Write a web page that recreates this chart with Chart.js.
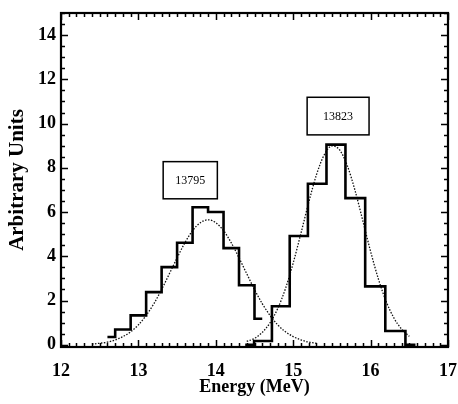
<!DOCTYPE html>
<html>
<head>
<meta charset="utf-8">
<script src="https://cdn.jsdelivr.net/npm/chart.js@4"></script>
<style>
  html, body { margin: 0; padding: 0; background: #fff; }
  #wrap { width: 458px; height: 404px; }
</style>
</head>
<body>
<div id="wrap"><canvas id="chart" width="458" height="404"></canvas></div>
<script>
// Histogram bin centres and heights
const leftCenters = [12.6, 12.8, 13.0, 13.2, 13.4, 13.6, 13.8, 14.0, 14.2, 14.4, 14.6]
const leftCounts = [0.35, 0.69, 1.33, 2.38, 3.51, 4.61, 6.22, 6.0, 4.37, 2.69, 1.18]
const rightCenters = [14.38, 14.61, 14.84, 15.07, 15.31, 15.55, 15.8, 16.06, 16.32, 16.58]
const rightCounts = [0, 0.17, 1.74, 4.92, 7.28, 9.05, 6.63, 2.64, 0.62, 0]

// Dotted fit curves
const fitLeftX = [12.4, 12.5, 12.6, 12.7, 12.8, 12.9, 13.0, 13.1, 13.2, 13.3, 13.4, 13.5, 13.6, 13.7, 13.8,
  13.9, 14.0, 14.1, 14.2, 14.3, 14.4, 14.5, 14.6, 14.7, 14.8, 14.9, 15.0, 15.1, 15.2, 15.3]
const fitLeftY = [0.03, 0.07, 0.12, 0.22, 0.37, 0.59, 0.9, 1.33, 1.86, 2.5, 3.21, 3.93, 4.61, 5.16, 5.52,
  5.65, 5.52, 5.16, 4.61, 3.93, 3.21, 2.5, 1.86, 1.33, 0.9, 0.59, 0.37, 0.22, 0.12, 0.07]
const fitRightX = [14.4, 14.5, 14.6, 14.7, 14.8, 14.9, 15.0, 15.1, 15.2, 15.3, 15.4, 15.5, 15.6, 15.7,
  15.8, 15.9, 16.0, 16.1, 16.2, 16.3, 16.4, 16.5]
const fitRightY = [0.15, 0.29, 0.56, 0.99, 1.64, 2.54, 3.7, 5.04, 6.43, 7.68, 8.58, 8.99, 8.81, 8.09,
  6.96, 5.6, 4.22, 2.98, 1.97, 1.22, 0.71, 0.38]

// Axis ticks
const xTicks = [12, 13, 14, 15, 16, 17]
const yTicks = [0, 2, 4, 6, 8, 10, 12, 14]

// Labelled boxes: text, x range, y range (data units)
const boxLabels = ["13795", "13823"]
const boxX = [[13.32, 14.02], [15.18, 15.98]]
const boxY = [[6.6, 8.28], [9.49, 11.19]]

const toPoints = (xs, ys) => xs.map((x, i) => ({ x: x, y: ys[i] }))

const labelFont = { family: "'Liberation Serif', serif", size: 18, weight: "bold" }

const framePlugin = {
  id: "frame",
  afterDatasetsDraw(chart) {
    const { ctx, chartArea: a, scales: { x, y } } = chart
    ctx.save()
    ctx.strokeStyle = "#000"
    ctx.lineWidth = 1.5
    ctx.beginPath()
    // x minor / major ticks, bottom and top, pointing inward
    for (let i = 120; i <= 170; i++) {
      const v = i / 10
      const px = Math.round(x.getPixelForValue(v)) + 0.5
      const len = i % 10 === 0 ? 7 : 4
      ctx.moveTo(px, a.bottom); ctx.lineTo(px, a.bottom - len)
      ctx.moveTo(px, a.top); ctx.lineTo(px, a.top + len)
    }
    // y ticks every 0.5, major at labels
    for (let i = 0; i <= 30; i++) {
      const v = i / 2
      const py = Math.round(y.getPixelForValue(v)) + 0.5
      const len = yTicks.includes(v) ? 7 : 4
      ctx.moveTo(a.left, py); ctx.lineTo(a.left + len, py)
      ctx.moveTo(a.right, py); ctx.lineTo(a.right - len, py)
    }
    ctx.stroke()
    ctx.lineWidth = 2.2
    ctx.strokeRect(a.left, a.top, a.right - a.left, a.bottom - a.top)

    // annotation boxes
    ctx.lineWidth = 1.5
    ctx.font = "12px 'Liberation Serif', serif"
    ctx.textAlign = "center"
    ctx.textBaseline = "middle"
    boxLabels.forEach((t, i) => {
      const x0 = x.getPixelForValue(boxX[i][0])
      const x1 = x.getPixelForValue(boxX[i][1])
      const y0 = y.getPixelForValue(boxY[i][1])
      const y1 = y.getPixelForValue(boxY[i][0])
      ctx.fillStyle = "#fff"
      ctx.fillRect(x0, y0, x1 - x0, y1 - y0)
      ctx.strokeRect(x0, y0, x1 - x0, y1 - y0)
      ctx.fillStyle = "#000"
      ctx.fillText(t, (x0 + x1) / 2, (y0 + y1) / 2 + 1)
    })
    ctx.restore()
  },
}

const ctx = document.getElementById("chart").getContext("2d")
new Chart(ctx, {
  type: "line",
  data: {
    datasets: [
      {
        data: toPoints(leftCenters, leftCounts),
        stepped: "middle",
        borderColor: "#000",
        borderWidth: 2.6,
        pointRadius: 0,
        fill: false,
      },
      {
        data: toPoints(rightCenters, rightCounts),
        stepped: "middle",
        borderColor: "#000",
        borderWidth: 2.6,
        pointRadius: 0,
        fill: false,
      },
      {
        data: toPoints(fitLeftX, fitLeftY),
        borderColor: "#111",
        borderWidth: 1.3,
        borderDash: [1.5, 1.5],
        cubicInterpolationMode: "monotone",
        pointRadius: 0,
        fill: false,
      },
      {
        data: toPoints(fitRightX, fitRightY),
        borderColor: "#111",
        borderWidth: 1.3,
        borderDash: [1.5, 1.5],
        cubicInterpolationMode: "monotone",
        pointRadius: 0,
        fill: false,
      },
    ],
  },
  options: {
    responsive: false,
    animation: false,
    layout: { padding: { top: 13, right: 0, left: 0, bottom: 0 } },
    plugins: {
      legend: { display: false },
      tooltip: { enabled: false },
    },
    scales: {
      x: {
        type: "linear",
        min: 12,
        max: 17,
        afterBuildTicks: (s) => { s.ticks = xTicks.map((v) => ({ value: v })) },
        afterFit: (s) => { s.height = 57; s.paddingLeft = 0; s.paddingRight = 10 },
        grid: { display: false, drawTicks: false },
        border: { display: false },
        ticks: { color: "#000", font: labelFont, padding: 14, maxRotation: 0 },
        title: {
          display: true,
          text: "Energy (MeV)",
          color: "#000",
          font: labelFont,
          padding: { top: 0, bottom: 6 },
        },
      },
      y: {
        type: "linear",
        min: -0.1,
        max: 15,
        afterBuildTicks: (s) => { s.ticks = yTicks.map((v) => ({ value: v })) },
        afterFit: (s) => { s.width = 61; s.paddingTop = 0; s.paddingBottom = 0 },
        grid: { display: false, drawTicks: false },
        border: { display: false },
        ticks: { color: "#000", font: labelFont, padding: 5 },
        title: {
          display: true,
          text: "Arbitrary Units",
          color: "#000",
          font: { family: "'Liberation Serif', serif", size: 21, weight: "bold" },
          padding: { top: 5, bottom: 0 },
        },
      },
    },
  },
  plugins: [framePlugin],
})
</script>
</body>
</html>
